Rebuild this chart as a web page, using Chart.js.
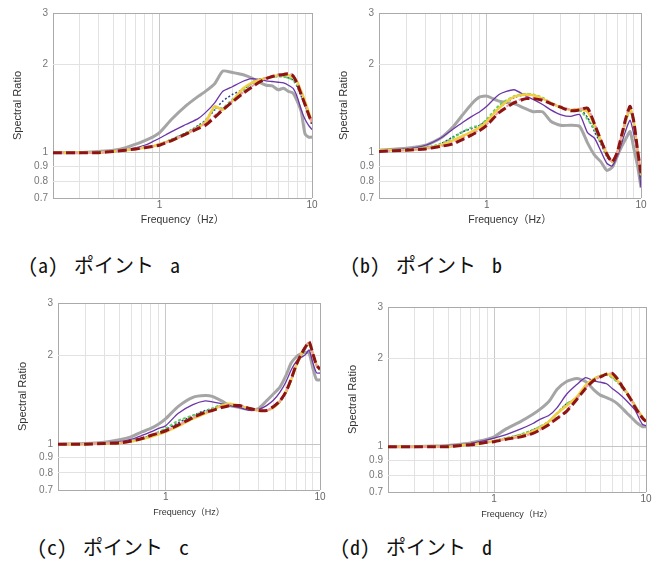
<!DOCTYPE html>
<html>
<head>
<meta charset="utf-8">
<script src="https://cdn.jsdelivr.net/npm/chart.js@4.4.0/dist/chart.umd.min.js"></script>
<style>
  body { margin: 0; background: #fff; width: 655px; height: 567px; position: relative; overflow: hidden; }
  canvas { position: absolute; }
  .cap { position: absolute; font-family: "Noto Sans Mono CJK JP", "Noto Sans CJK JP", sans-serif; font-size: 20px; line-height: 24px; color: #111; white-space: pre; word-spacing: 6px; }
</style>
</head>
<body>
<canvas id="pa" width="325" height="232" style="left:0;top:0"></canvas>
<canvas id="pb" width="329" height="232" style="left:326px;top:0"></canvas>
<canvas id="pc" width="325" height="234" style="left:5px;top:290px"></canvas>
<canvas id="pd" width="320" height="232" style="left:335px;top:294px"></canvas>
<div class="cap" style="left:28px;top:253px">(a) ポイント a</div>
<div class="cap" style="left:350px;top:253px">(b) ポイント b</div>
<div class="cap" style="left:37px;top:535px">(c) ポイント c</div>
<div class="cap" style="left:340px;top:535px">(d) ポイント d</div>
<script>
// frequency samples (Hz), shared by every curve
const freq = [0.2,0.3,0.4,0.5,0.6,0.7,0.8,0.9,1,1.2,1.5,1.8,2,2.3,2.6,3,3.5,4,4.5,5,5.5,6,6.5,7,7.5,8,8.5,9,9.5,10];
const xTicks = [0.2,0.3,0.4,0.5,0.6,0.7,0.8,0.9,1,2,3,4,5,6,7,8,9,10];
const yTicks = [0.7,0.8,0.9,1,2,3];

// point a
const aGray   = [1.0,1.0,1.01,1.02,1.04,1.07,1.10,1.13,1.17,1.30,1.45,1.56,1.62,1.72,1.90,1.88,1.85,1.80,1.74,1.70,1.69,1.64,1.66,1.62,1.60,1.50,1.38,1.16,1.13,1.13];
const aPurple = [1.0,1.0,1.005,1.01,1.02,1.04,1.06,1.09,1.12,1.18,1.25,1.31,1.37,1.48,1.62,1.68,1.75,1.79,1.78,1.76,1.75,1.74,1.73,1.70,1.66,1.55,1.40,1.30,1.24,1.20];
const aNavy   = [1.0,1.0,1.0,1.01,1.02,1.03,1.04,1.05,1.07,1.11,1.17,1.24,1.29,1.40,1.50,1.58,1.64,1.72,1.78,1.80,1.81,1.82,1.82,1.80,1.77,1.68,1.56,1.45,1.34,1.25];
const aGreen  = [1.0,1.0,1.0,1.01,1.02,1.03,1.04,1.05,1.07,1.11,1.17,1.23,1.28,1.42,1.42,1.52,1.62,1.72,1.77,1.80,1.82,1.83,1.82,1.80,1.78,1.70,1.58,1.46,1.36,1.27];
const aYellow = [1.0,1.0,1.0,1.01,1.02,1.03,1.04,1.05,1.07,1.10,1.16,1.22,1.27,1.44,1.40,1.50,1.65,1.73,1.77,1.80,1.82,1.84,1.84,1.84,1.81,1.75,1.62,1.50,1.38,1.27];
const aPink   = [1.0,1.0,1.0,1.01,1.02,1.03,1.04,1.05,1.07,1.10,1.16,1.22,1.26,1.34,1.41,1.50,1.60,1.68,1.75,1.80,1.83,1.85,1.86,1.87,1.84,1.74,1.60,1.47,1.36,1.27];
const aRed    = [1.0,1.0,1.0,1.01,1.02,1.03,1.04,1.05,1.06,1.10,1.16,1.21,1.24,1.32,1.40,1.49,1.59,1.67,1.74,1.79,1.82,1.84,1.85,1.86,1.83,1.72,1.58,1.46,1.35,1.26];

// point b
const bGray   = [1.02,1.035,1.06,1.12,1.22,1.35,1.47,1.55,1.56,1.50,1.47,1.41,1.38,1.38,1.28,1.24,1.24,1.23,1.08,0.98,0.93,0.87,0.89,0.97,1.05,1.12,1.18,1.03,0.90,0.76];
const bPurple = [1.02,1.03,1.06,1.12,1.20,1.27,1.33,1.38,1.44,1.58,1.64,1.56,1.52,1.46,1.40,1.35,1.33,1.35,1.17,1.12,1.01,0.92,0.90,0.97,1.08,1.20,1.29,1.15,0.98,0.76];
const bNavy   = [1.02,1.025,1.04,1.07,1.13,1.18,1.21,1.24,1.29,1.42,1.54,1.58,1.57,1.53,1.48,1.43,1.40,1.41,1.32,1.18,1.07,0.97,0.93,1.00,1.13,1.28,1.40,1.25,1.00,0.82];
const bGreen  = [1.02,1.025,1.04,1.07,1.12,1.18,1.22,1.24,1.30,1.45,1.56,1.59,1.58,1.54,1.48,1.43,1.40,1.40,1.30,1.20,1.08,0.98,0.93,1.00,1.13,1.28,1.40,1.25,1.00,0.83];
const bYellow = [1.02,1.02,1.035,1.06,1.10,1.14,1.18,1.22,1.28,1.42,1.55,1.58,1.57,1.53,1.48,1.43,1.40,1.41,1.38,1.24,1.10,0.99,0.93,1.00,1.14,1.30,1.42,1.27,1.01,0.84];
const bPink   = [1.01,1.02,1.03,1.05,1.08,1.12,1.16,1.20,1.25,1.38,1.49,1.54,1.54,1.52,1.48,1.44,1.40,1.41,1.42,1.26,1.11,1.00,0.93,1.00,1.15,1.32,1.44,1.28,1.02,0.85];
const bRed    = [1.01,1.02,1.03,1.05,1.07,1.11,1.15,1.19,1.24,1.37,1.48,1.53,1.53,1.51,1.47,1.43,1.39,1.40,1.42,1.25,1.10,0.99,0.93,1.00,1.15,1.32,1.44,1.27,1.02,0.85];

// point c
const cGray   = [1.0,1.005,1.015,1.035,1.06,1.10,1.13,1.17,1.22,1.34,1.44,1.46,1.45,1.40,1.35,1.33,1.31,1.32,1.40,1.48,1.56,1.70,1.88,1.97,2.02,2.04,2.03,1.80,1.65,1.65];
const cPurple = [1.0,1.0,1.01,1.02,1.04,1.07,1.10,1.13,1.155,1.27,1.36,1.40,1.39,1.37,1.35,1.33,1.30,1.31,1.35,1.41,1.50,1.62,1.78,1.90,1.96,2.00,2.08,1.88,1.74,1.74];
const cNavy   = [1.0,1.0,1.005,1.01,1.025,1.045,1.07,1.09,1.12,1.18,1.25,1.30,1.32,1.35,1.36,1.35,1.32,1.30,1.30,1.33,1.39,1.49,1.64,1.83,1.98,2.10,2.18,2.00,1.84,1.78];
const cGreen  = [1.0,1.0,1.005,1.01,1.025,1.045,1.07,1.10,1.13,1.20,1.25,1.29,1.32,1.36,1.37,1.35,1.32,1.30,1.30,1.33,1.39,1.49,1.64,1.83,1.98,2.10,2.18,2.00,1.84,1.78];
const cYellow = [1.0,1.0,1.005,1.01,1.02,1.04,1.06,1.08,1.10,1.15,1.22,1.27,1.30,1.35,1.37,1.35,1.32,1.30,1.30,1.33,1.40,1.50,1.65,1.84,2.00,2.12,2.20,2.02,1.85,1.79];
const cPink   = [1.0,1.0,1.005,1.01,1.025,1.045,1.07,1.09,1.11,1.16,1.23,1.28,1.30,1.34,1.36,1.35,1.32,1.30,1.30,1.34,1.40,1.50,1.66,1.85,2.00,2.12,2.22,2.02,1.85,1.79];
const cRed    = [1.0,1.0,1.005,1.01,1.025,1.045,1.07,1.09,1.11,1.16,1.23,1.28,1.30,1.33,1.35,1.35,1.32,1.30,1.30,1.34,1.40,1.50,1.66,1.85,2.00,2.12,2.22,2.02,1.85,1.79];

// point d
const dGray   = [1.0,1.0,1.005,1.01,1.02,1.03,1.045,1.06,1.08,1.15,1.22,1.29,1.34,1.43,1.57,1.67,1.71,1.67,1.57,1.50,1.47,1.44,1.40,1.35,1.30,1.26,1.22,1.19,1.17,1.17];
const dPurple = [1.0,1.0,1.0,1.01,1.015,1.025,1.04,1.055,1.07,1.10,1.15,1.20,1.24,1.28,1.36,1.51,1.63,1.72,1.68,1.66,1.64,1.58,1.53,1.48,1.43,1.38,1.33,1.25,1.19,1.18];
const dNavy   = [1.0,1.0,1.0,1.0,1.01,1.015,1.025,1.035,1.045,1.07,1.10,1.14,1.17,1.22,1.30,1.40,1.47,1.60,1.70,1.74,1.76,1.73,1.67,1.60,1.53,1.45,1.38,1.31,1.26,1.22];
const dGreen  = [1.0,1.0,1.0,1.0,1.01,1.015,1.025,1.035,1.045,1.07,1.10,1.14,1.17,1.22,1.30,1.40,1.46,1.60,1.70,1.75,1.76,1.72,1.66,1.58,1.52,1.45,1.38,1.31,1.26,1.22];
const dYellow = [1.0,1.0,1.0,1.0,1.01,1.015,1.025,1.035,1.045,1.065,1.09,1.13,1.16,1.22,1.30,1.38,1.48,1.62,1.70,1.74,1.77,1.74,1.68,1.60,1.53,1.45,1.37,1.31,1.26,1.22];
const dPink   = [1.0,1.0,1.0,1.0,1.01,1.015,1.025,1.035,1.04,1.06,1.08,1.11,1.14,1.19,1.25,1.33,1.46,1.59,1.68,1.73,1.77,1.78,1.71,1.61,1.53,1.45,1.37,1.30,1.25,1.22];
const dRed    = [1.0,1.0,1.0,1.0,1.01,1.015,1.025,1.035,1.04,1.06,1.08,1.11,1.14,1.19,1.25,1.32,1.45,1.58,1.68,1.73,1.77,1.78,1.70,1.60,1.52,1.44,1.36,1.30,1.25,1.22];

// line looks, first one is drawn on top
const styles = [
  { color: '#8e1414', width: 3,   dash: [9, 4] },
  { color: '#f29bb0', width: 2,   dash: [4, 3] },
  { color: '#f0d040', width: 2.5, dash: [] },
  { color: '#5fcf5f', width: 2,   dash: [3, 2] },
  { color: '#2c3e8c', width: 1.5, dash: [2, 2] },
  { color: '#6b35a8', width: 1.3, dash: [] },
  { color: '#a5a5a5', width: 3,   dash: [] }
];

const family = '"Liberation Sans", Arial, "Noto Sans CJK JP", sans-serif';

function makeChart(id, series, padRight, xTitleSize, xTitlePad) {
  const datasets = series.map((vals, i) => ({
    data: freq.map((f, j) => ({ x: f, y: vals[j] })),
    borderColor: styles[i].color,
    borderWidth: styles[i].width,
    borderDash: styles[i].dash,
    pointRadius: 0,
    tension: 0.2,
    fill: false
  }));

  return new Chart(document.getElementById(id), {
    type: 'line',
    data: { datasets: datasets },
    options: {
      responsive: false,
      animation: false,
      layout: { padding: { top: 13, right: padRight, left: 0, bottom: 0 } },
      plugins: { legend: { display: false }, tooltip: { enabled: false } },
      scales: {
        x: {
          type: 'logarithmic', min: 0.2, max: 10,
          afterBuildTicks: s => { s.ticks = xTicks.map(v => ({ value: v })); },
          afterFit: s => { s.height = 34; },
          ticks: {
            autoSkip: false, maxRotation: 0, padding: 1, color: '#666',
            font: { size: 10, family: family },
            callback: v => (v === 1 || v === 10) ? String(v) : ''
          },
          grid: {
            drawTicks: false,
            color: c => (c.tick.value === 0.2 || c.tick.value === 10) ? '#aaa' : (c.tick.value === 1 ? '#c8c8c8' : '#e2e2e2')
          },
          border: { display: false },
          title: {
            display: true, text: 'Frequency（Hz）', color: '#333',
            font: { size: xTitleSize, family: family },
            padding: { top: 0, bottom: xTitlePad }
          }
        },
        y: {
          type: 'logarithmic', min: 0.7, max: 3,
          afterBuildTicks: s => { s.ticks = yTicks.map(v => ({ value: v })); },
          afterFit: s => { s.width = 53; },
          ticks: {
            autoSkip: false, padding: 5, color: '#777',
            font: { size: 10, family: family },
            callback: v => String(v)
          },
          grid: {
            drawTicks: false,
            color: c => (c.tick.value === 0.7 || c.tick.value === 3) ? '#aaa' : (c.tick.value === 1 ? '#c4c4c4' : '#e2e2e2')
          },
          border: { display: false },
          title: {
            display: true, text: 'Spectral Ratio', color: '#333',
            font: { size: 11, family: family },
            padding: { top: 11, bottom: 0 }
          }
        }
      }
    }
  });
}

makeChart('pa', [aRed, aPink, aYellow, aGreen, aNavy, aPurple, aGray], 13, 10.5, 5.7);
makeChart('pb', [bRed, bPink, bYellow, bGreen, bNavy, bPurple, bGray], 14, 10.5, 5.7);
makeChart('pc', [cRed, cPink, cYellow, cGreen, cNavy, cPurple, cGray], 10, 9, 5.6);
makeChart('pd', [dRed, dPink, dYellow, dGreen, dNavy, dPurple, dGray], 9, 9, 5.6);
</script>
</body>
</html>
